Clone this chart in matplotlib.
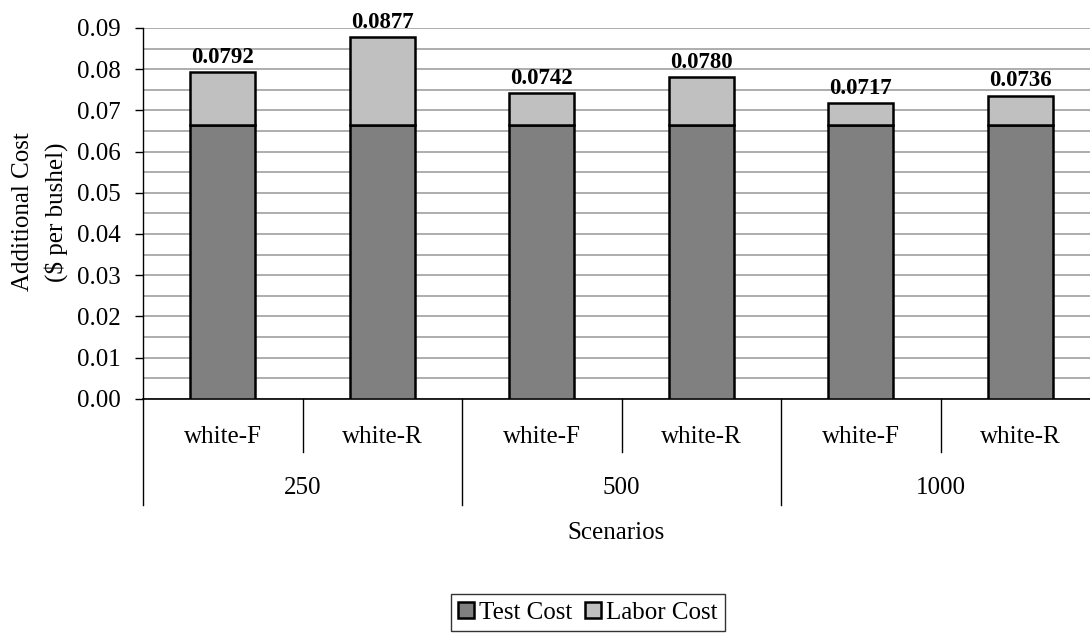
import matplotlib
matplotlib.use('Agg')
import matplotlib.pyplot as plt
import numpy as np

plt.rcParams['font.family'] = ['Liberation Serif', 'DejaVu Serif']

scenarios = ['white-F', 'white-R', 'white-F', 'white-R', 'white-F', 'white-R']
groups = ['250', '500', '1000']
totals = [0.0792, 0.0877, 0.0742, 0.0780, 0.0717, 0.0736]
test_cost = [0.0665, 0.0665, 0.0665, 0.0665, 0.0665, 0.0665]
labor_cost = [t - c for t, c in zip(totals, test_cost)]
total_labels = ['0.0792', '0.0877', '0.0742', '0.0780', '0.0717', '0.0736']

fs = 18
fig = plt.figure(figsize=(10.9, 6.33), dpi=100)
ax = fig.add_axes([143/1090, 1 - 398.7/633, (1100 - 143)/1090, (398.7 - 28)/633])

x = np.arange(len(scenarios))
w = 0.405
ax.bar(x, test_cost, w, color='#808080', edgecolor='black', linewidth=1.8,
       label='Test Cost', zorder=3)
ax.bar(x, labor_cost, w, bottom=test_cost, color='#c0c0c0', edgecolor='black',
       linewidth=1.8, label='Labor Cost', zorder=3)
for xi, t, s in zip(x, totals, total_labels):
    ax.text(xi, t + 0.001, s, ha='center', va='bottom', fontsize=16.5,
            fontweight='bold')

ax.set_xlim(-0.5, len(scenarios) - 0.5)
ax.set_ylim(0, 0.09)
ax.set_yticks(np.arange(0, 0.0901, 0.01))
ax.set_yticklabels(['%.2f' % v for v in np.arange(0, 0.0901, 0.01)], fontsize=fs)
ax.set_yticks(np.arange(0.005, 0.09, 0.01), minor=True)
ax.tick_params(axis='y', which='major', length=6, width=1, direction='out', pad=10)
ax.tick_params(axis='y', which='minor', length=0)
ax.grid(axis='y', which='both', color='#a0a0a0', linewidth=1.2, zorder=0)
ax.set_xticks([])
for sp in ['top', 'right']:
    ax.spines[sp].set_visible(False)
ax.spines['bottom'].set_linewidth(1.2)
ax.spines['left'].set_linewidth(1.0)

# category labels below the axis
trans = ax.get_xaxis_transform()
for xi, s in zip(x, scenarios):
    ax.text(xi, -0.104, s, transform=trans, ha='center', va='center', fontsize=fs)
for gi, g in enumerate(groups):
    ax.text(2 * gi + 0.5, -0.242, g, transform=trans, ha='center', va='center',
            fontsize=fs)
# separators
inner_bottom = -(452 - 398.7) / (398.7 - 28)
outer_bottom = -(505 - 398.7) / (398.7 - 28)
for gi in range(len(groups)):
    ax.plot([2 * gi + 0.5] * 2, [0, inner_bottom], transform=trans,
            color='black', lw=1, clip_on=False)
for b in range(len(groups) + 1):
    ax.plot([2 * b - 0.5] * 2, [0, outer_bottom], transform=trans,
            color='black', lw=1, clip_on=False)

fig.text(616/1090, 1 - 533/633, 'Scenarios', ha='center', va='center', fontsize=fs)
fig.text(23/1090, 1 - 212/633, 'Additional Cost', rotation=90, ha='center',
         va='center', fontsize=fs)
fig.text(56/1090, 1 - 212/633, '($ per bushel)', rotation=90, ha='center',
         va='center', fontsize=fs)

leg = fig.legend(loc='upper center', bbox_to_anchor=(588/1090, 1 - 594/633),
                 ncol=2, fontsize=fs, frameon=True, fancybox=False,
                 edgecolor='black', handlelength=0.65, handleheight=0.65,
                 handletextpad=0.2, columnspacing=0.5, borderpad=0.3,
                 borderaxespad=0)
leg.get_frame().set_linewidth(1.0)

fig.savefig('out.png', dpi=100)
